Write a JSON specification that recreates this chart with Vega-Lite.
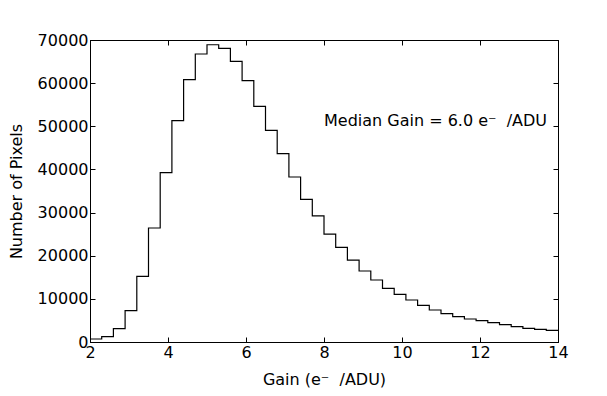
{
  "$schema": "https://vega.github.io/schema/vega-lite/v6.json",
  "width": 468,
  "height": 302,
  "autosize": "none",
  "padding": {"left": 90, "top": 40, "right": 49, "bottom": 54},
  "background": "white",
  "config": {
    "font": "DejaVu Sans",
    "view": {"stroke": "black", "strokeWidth": 1},
    "axis": {
      "domain": true, "domainColor": "black", "grid": false,
      "tickColor": "black", "tickSize": -5, "labelColor": "black",
      "labelFlush": false, "labelOverlap": false, "format": "d",
      "labelFont": "DejaVu Sans", "labelFontSize": 16, "titleFont": "DejaVu Sans",
      "titleFontSize": 16, "titleFontWeight": "normal", "titleColor": "black"
    }
  },
  "data": {"values": [
    {"gain": 2.0, "count": 700},
    {"gain": 2.3, "count": 1230},
    {"gain": 2.6, "count": 3080},
    {"gain": 2.9, "count": 7250},
    {"gain": 3.2, "count": 15230},
    {"gain": 3.5, "count": 26420},
    {"gain": 3.8, "count": 39250},
    {"gain": 4.1, "count": 51300},
    {"gain": 4.4, "count": 60800},
    {"gain": 4.7, "count": 66750},
    {"gain": 5.0, "count": 68900},
    {"gain": 5.3, "count": 68080},
    {"gain": 5.6, "count": 65060},
    {"gain": 5.9, "count": 60570},
    {"gain": 6.2, "count": 54630},
    {"gain": 6.5, "count": 49070},
    {"gain": 6.8, "count": 43650},
    {"gain": 7.1, "count": 38250},
    {"gain": 7.4, "count": 33080},
    {"gain": 7.7, "count": 29250},
    {"gain": 8.0, "count": 25000},
    {"gain": 8.3, "count": 21940},
    {"gain": 8.6, "count": 19000},
    {"gain": 8.9, "count": 16460},
    {"gain": 9.2, "count": 14370},
    {"gain": 9.5, "count": 12440},
    {"gain": 9.8, "count": 11050},
    {"gain": 10.1, "count": 9730},
    {"gain": 10.4, "count": 8500},
    {"gain": 10.7, "count": 7420},
    {"gain": 11.0, "count": 6560},
    {"gain": 11.3, "count": 5870},
    {"gain": 11.6, "count": 5330},
    {"gain": 11.9, "count": 4940},
    {"gain": 12.2, "count": 4470},
    {"gain": 12.5, "count": 4010},
    {"gain": 12.8, "count": 3550},
    {"gain": 13.1, "count": 3180},
    {"gain": 13.4, "count": 2940},
    {"gain": 13.7, "count": 2710},
    {"gain": 14.0, "count": 2710}
  ]},
  "layer": [
    {
      "mark": {"type": "line", "interpolate": "step-after", "color": "black", "strokeWidth": 1.2},
      "encoding": {
        "x": {"field": "gain", "type": "quantitative", "scale": {"domain": [2, 14], "nice": false, "zero": false},
              "axis": {"orient": "bottom", "title": "Gain (e⁻\u00a0\u00a0/ADU)", "values": [2,4,6,8,10,12,14], "labelPadding": 7, "titlePadding": 11}},
        "y": {"field": "count", "type": "quantitative", "scale": {"domain": [0, 70000], "nice": false},
              "axis": {"orient": "left", "title": "Number of Pixels", "values": [0,10000,20000,30000,40000,50000,60000,70000], "labelPadding": 7, "titlePadding": 13}}
      }
    },
    {
      "mark": {"type": "line", "interpolate": "step-after", "color": "black", "strokeWidth": 1.2, "opacity": 0},
      "encoding": {
        "x": {"field": "gain", "type": "quantitative",
              "axis": {"orient": "top", "title": null, "labels": false, "values": [2,4,6,8,10,12,14]}},
        "y": {"field": "count", "type": "quantitative",
              "axis": {"orient": "right", "title": null, "labels": false, "values": [0,10000,20000,30000,40000,50000,60000,70000]}}
      }
    },
    {
      "data": {"values": [{"gain": 8.0, "count": 50000, "label": "Median Gain = 6.0 e⁻\u00a0\u00a0/ADU"}]},
      "mark": {"type": "text", "align": "left", "baseline": "alphabetic", "fontSize": 16, "font": "DejaVu Sans", "color": "black"},
      "encoding": {
        "x": {"field": "gain", "type": "quantitative", "axis": null},
        "y": {"field": "count", "type": "quantitative", "axis": null},
        "text": {"field": "label"}
      }
    }
  ]
}
